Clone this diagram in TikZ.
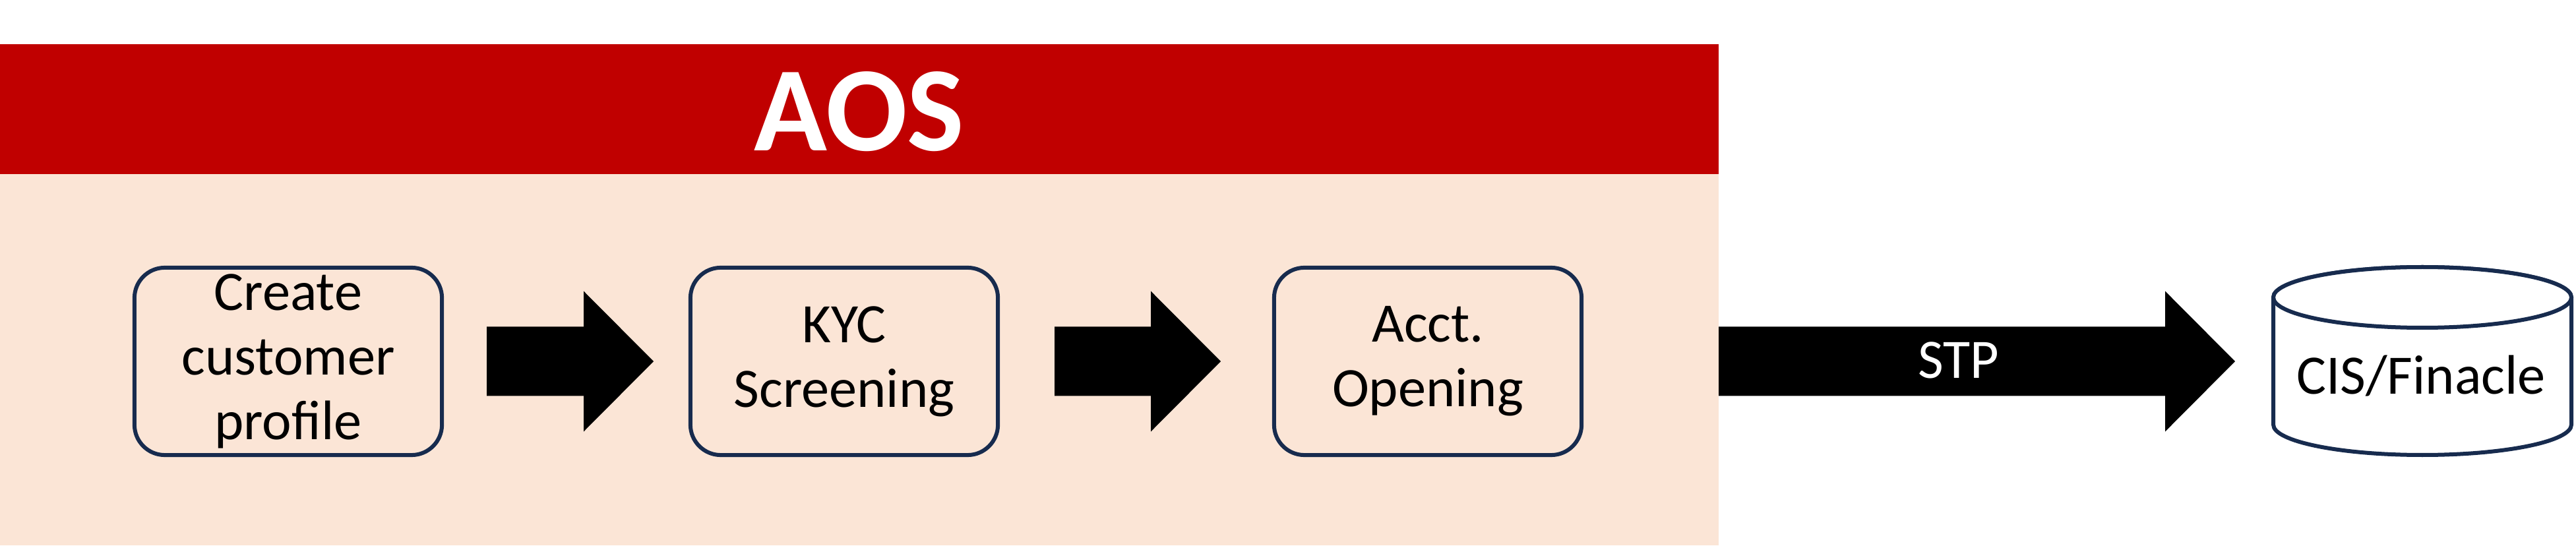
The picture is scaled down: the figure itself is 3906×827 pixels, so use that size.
\documentclass[tikz,border=0pt]{standalone}
\usepackage{fontspec}
\setmainfont{Carlito}
\usepackage{tikz}
\usetikzlibrary{calc, positioning}
\definecolor{aosred}{RGB}{192,0,0}
\definecolor{aospeach}{RGB}{251,229,214}
\definecolor{boxnavy}{RGB}{23,43,78}
\tikzset{
  stepbox/.style={rectangle, draw=boxnavy, fill=aospeach, line width=0.06cm,
    rounded corners=0.46cm, minimum width=4.66cm, minimum height=2.84cm,
    align=center, inner sep=0pt, font=\fontsize{24}{27.9}\selectfont},
  blockarrow/.style={fill=black,
    to path={($(\tikztostart)+(0,-52.5)$) -- ($(\tikztotarget)+(-106,-52.5)$)
      -- ($(\tikztotarget)+(-106,-106.5)$) -- (\tikztotarget)
      -- ($(\tikztotarget)+(-106,106.5)$) -- ($(\tikztotarget)+(-106,52.5)$)
      -- ($(\tikztostart)+(0,52.5)$) -- cycle}},
  dbcyl/.style={draw=boxnavy, fill=white, line width=0.06cm},
  bigtext/.style={font=\fontsize{24}{27.9}\selectfont, inner sep=0pt}
}

\begin{document}
\begin{tikzpicture}[x=0.01cm, y=0.01cm]
  \useasboundingbox (0,0) rectangle (3906,827);

  % AOS area
  \fill[aospeach] (0,0) rectangle (2606,563);
  \fill[aosred] (0,563) rectangle (2606,760);
  \node[text=white, inner sep=0pt, font=\fontsize{52}{60}\selectfont\bfseries] (aos) at (1303,658) {AOS};

  % Process steps
  \node[stepbox] (create) at (437,279) {Create\\customer\\profile};
  \node[stepbox] (kyc) at (1280,279) {KYC\\Screening};
  \node[stepbox] (acct) at (2165,279) {Acct.\\Opening};

  % Block arrows
  \coordinate (a1tail) at (738,279);
  \coordinate (a1tip) at (991,279);
  \coordinate (a2tail) at (1599,279);
  \coordinate (a2tip) at (1851,279);
  \coordinate (stptail) at (2606,279);
  \coordinate (stptip) at (3389,279);
  \fill[blockarrow] (a1tail) to (a1tip);
  \fill[blockarrow] (a2tail) to (a2tip);
  \fill[blockarrow] (stptail) to (stptip);
  \node[bigtext, text=white, anchor=base] (stp) at (2970,254) {STP};

  % Database
  \filldraw[dbcyl] (3447,376) -- (3447,183) arc[start angle=180, end angle=360, x radius=226, y radius=46]
    -- (3899,376) arc[start angle=0, end angle=180, x radius=226, y radius=46] -- cycle;
  \draw[dbcyl] (3673,376) ellipse[x radius=226, y radius=46];
  \node[bigtext, anchor=base] (cis) at (3671,229) {CIS/Finacle};
\end{tikzpicture}
\end{document}
